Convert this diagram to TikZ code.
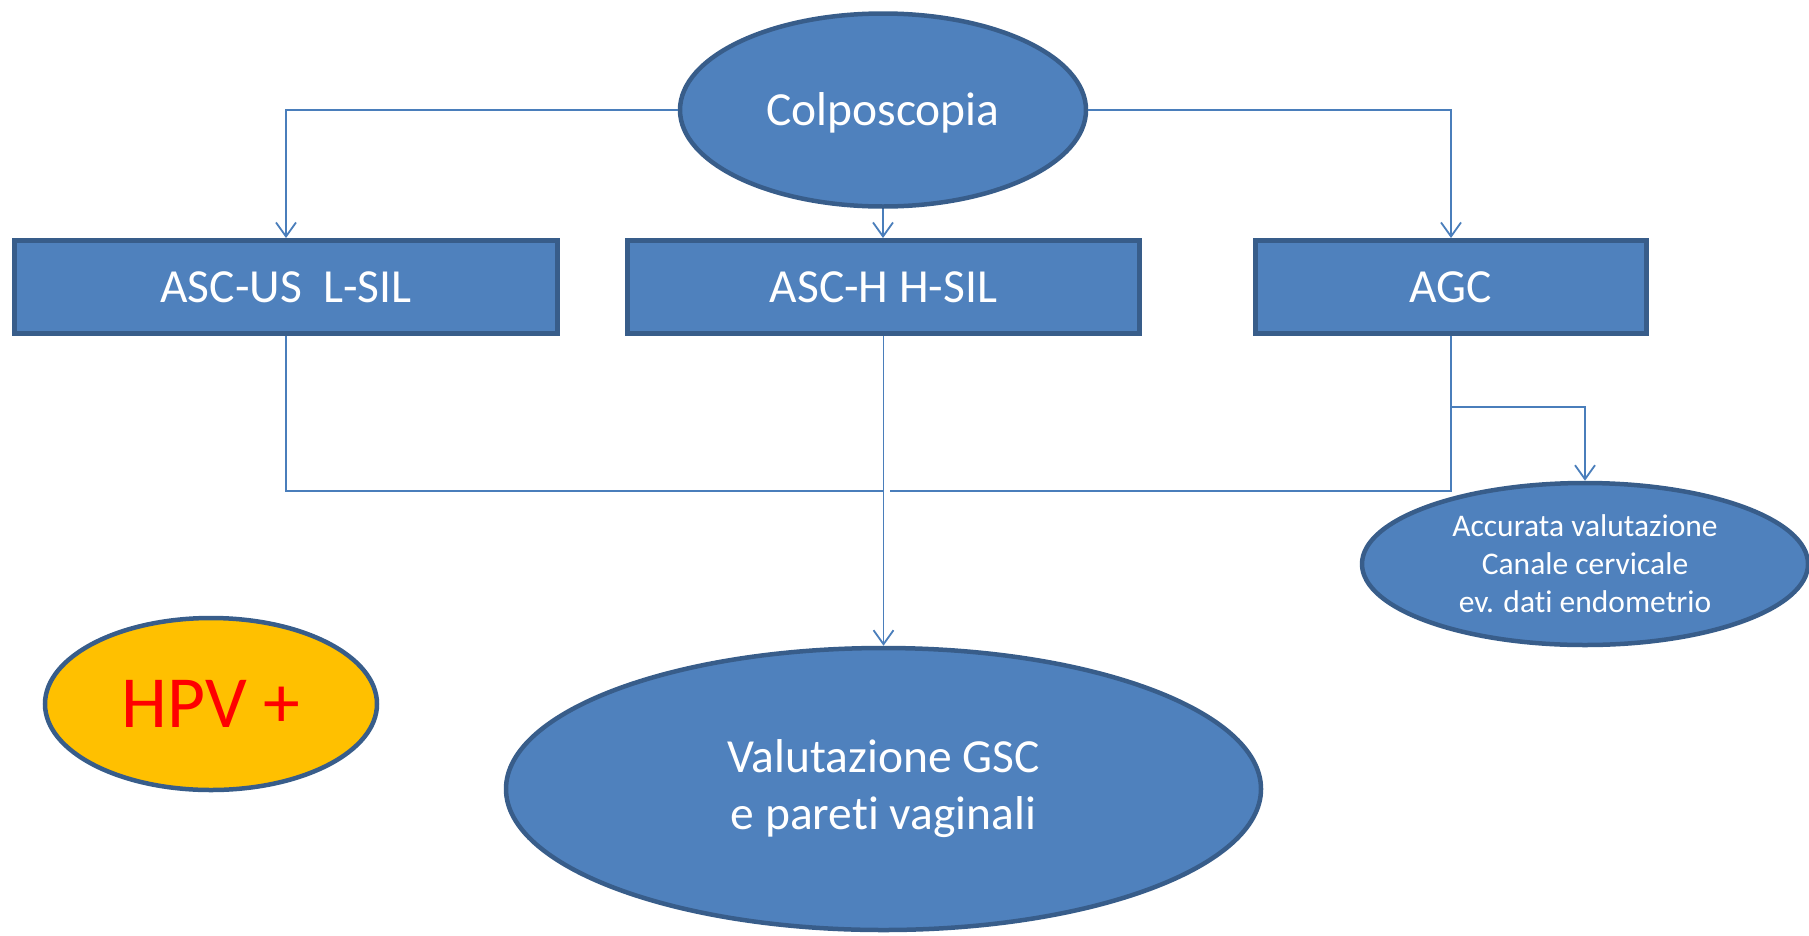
\documentclass[tikz,border=0pt]{standalone}
\usepackage{fontspec}
\setmainfont{Carlito}[Ligatures={NoCommon}]
\usetikzlibrary{shapes.geometric,arrows.meta}
\definecolor{boxfill}{HTML}{4F81BD}
\definecolor{boxline}{HTML}{385D8A}
\definecolor{linkblue}{HTML}{4A7EBB}
\definecolor{hpvfill}{HTML}{FFC000}
\begin{document}
\begin{tikzpicture}[x=1pt,y=-1pt,
  stepbox/.style={rectangle, draw=boxline, fill=boxfill, line width=5pt,
    text=white, inner sep=0pt, font=\fontsize{47.5}{57}\selectfont},
  oval/.style={ellipse, draw=boxline, fill=boxfill, line width=4.5pt,
    text=white, inner sep=0pt, align=center},
  bigtext/.style={font=\fontsize{47.5}{57}\selectfont},
  smalltext/.style={font=\fontsize{31.5}{38}\selectfont},
  link/.style={draw=linkblue, line width=1.8pt},
  arr/.style={link, -{Straight Barb[length=14pt,width=20pt]}}
]
\useasboundingbox (0,0) rectangle (1809,935);

% top ellipse
\node[oval, bigtext, minimum width=406pt, minimum height=193pt,
  text height=30pt, text depth=0pt] (colpo) at (883,110) {Colposcopia};

% cytology categories
\node[stepbox, minimum width=543pt, minimum height=93pt] (b1) at (286,287) {ASC-US\ \ L-SIL};
\node[stepbox, minimum width=512pt, minimum height=93pt] (b2) at (883.5,287) {ASC-H H-SIL};
\node[stepbox, minimum width=391pt, minimum height=93pt] (b3) at (1451,287) {AGC};

% outcomes
\node[oval, bigtext, minimum width=755pt, minimum height=282pt] (big) at (883.5,789)
  {Valutazione GSC\\e pareti vaginali};
\node[oval, smalltext, minimum width=446pt, minimum height=162pt] (small) at (1585,564)
  {Accurata valutazione\\Canale cervicale\\ev. dati endometrio};
\node[ellipse, draw=boxline, fill=hpvfill, line width=4.5pt, inner sep=0pt,
  minimum width=332pt, minimum height=172pt, text=red,
  font=\fontsize{73.5}{80}\selectfont] (hpv) at (211,704) {HPV +};

% connectors
\coordinate (jl) at (883.5,491);
\coordinate (jr) at (890,491);
\coordinate (fork) at (1451,407);

\draw[arr] (colpo.west) -| (b1.north);
\draw[arr] (colpo.south) -- (colpo.south |- b2.north);
\draw[arr] (colpo.east) -| (b3.north);
\draw[link] (b1.south) |- (jl);
\draw[link] (b3.south) |- (jr);
\draw[arr] (b2.south) -- (big.north);
\draw[arr] (fork) -| (small.north);
\end{tikzpicture}
\end{document}
